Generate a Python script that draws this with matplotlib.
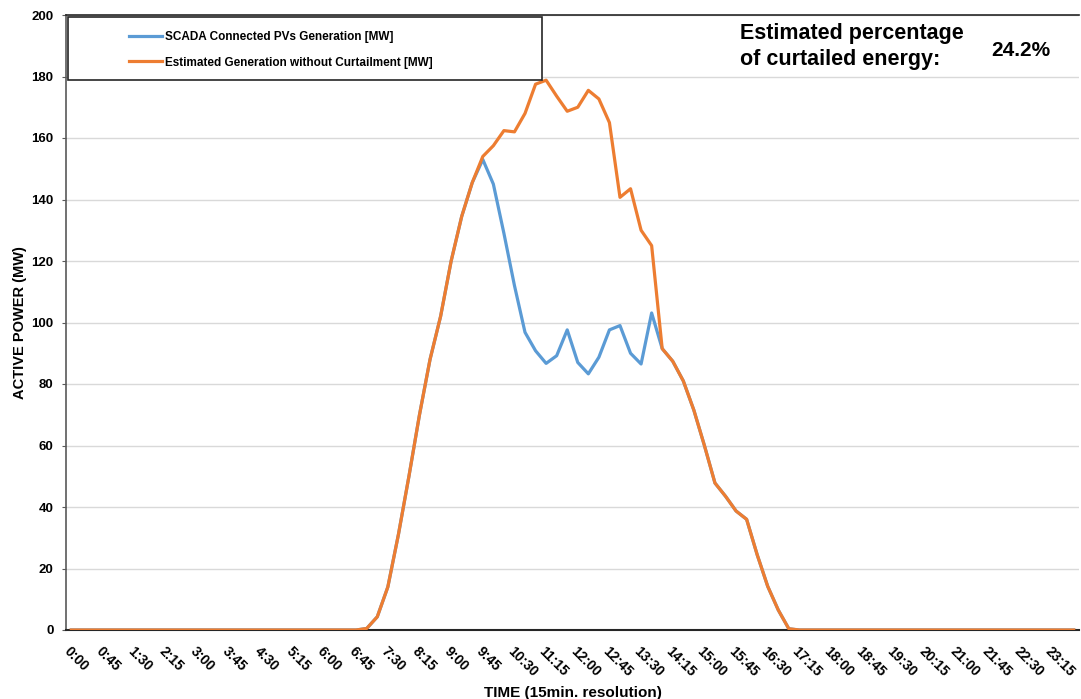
import matplotlib
matplotlib.use("Agg")
import matplotlib.pyplot as plt
from matplotlib.patches import Rectangle

plt.rcParams['font.family'] = ['Liberation Sans', 'DejaVu Sans']
plt.rcParams['font.weight'] = 'bold'

# 15 minute slots over one day
times = [f"{h}:{m:02d}" for h in range(24) for m in (0, 15, 30, 45)]

# estimated generation without curtailment [MW], slots 28..68, zero elsewhere
est_day = [0.5, 4.3, 14, 31, 50, 70, 88, 102, 120, 134.5, 145.5, 154,
           157.5, 162.4, 162, 168, 177.5, 178.8, 173.6, 168.7, 170, 175.5,
           172.7, 165, 140.7, 143.5, 130, 125, 91.5, 87.4, 81, 71.5, 60,
           47.8, 43.5, 38.7, 36, 24.5, 14.2, 6.5, 0.4]
# SCADA measured generation [MW], same slots
scada_day = [0.5, 4.3, 14, 31, 50, 70, 88, 102, 120, 134.5, 145.5, 153,
             145, 129, 112, 96.8, 90.8, 86.7, 89.2, 97.6, 87, 83.3,
             88.7, 97.6, 99, 90, 86.5, 103.1, 91.5, 87.4, 81, 71.5, 60,
             47.8, 43.5, 38.7, 36, 24.5, 14.2, 6.5, 0.4]
start = 28
est = [0] * start + est_day + [0] * (96 - start - len(est_day))
scada = [0] * start + scada_day + [0] * (96 - start - len(scada_day))

curtailed_pct = "24.2%"

W, H = 1081, 699
fig = plt.figure(figsize=(W / 100, H / 100), dpi=100)
ax_l, ax_r, ax_t, ax_b = 66, 1079, 15, 630
ax = fig.add_axes([ax_l / W, 1 - ax_b / H, (ax_r - ax_l) / W, (ax_b - ax_t) / H])

x = list(range(96))
ax.plot(x, scada, color='#5B9BD5', lw=2.3, label='SCADA Connected PVs Generation [MW]',
        solid_joinstyle='round', zorder=2)
ax.plot(x, est, color='#ED7D31', lw=2.3, label='Estimated Generation without Curtailment [MW]',
        solid_joinstyle='round', zorder=3)

ax.set_xlim(-0.5, 95.5)
ax.set_ylim(0, 200)
ax.set_yticks(range(0, 201, 20))
ax.set_xticks(x[::3])
ax.set_xticklabels(times[::3], rotation=-45, ha='left', va='top',
                   rotation_mode='anchor', fontsize=10, fontweight='bold')
ax.tick_params(axis='x', length=0, pad=10)
ax.tick_params(axis='y', length=3, width=0.8, color='#595959', pad=6, labelsize=9.5)
for lbl in ax.get_yticklabels():
    lbl.set_fontweight('bold')

ax.grid(axis='y', color='#d9d9d9', lw=1)
ax.set_axisbelow(True)
ax.spines['left'].set_color('#595959')
ax.spines['left'].set_linewidth(1.2)
ax.spines['bottom'].set_color('#262626')
ax.spines['bottom'].set_linewidth(1.5)
ax.spines['top'].set_color('#262626')
ax.spines['top'].set_linewidth(1.2)
ax.spines['right'].set_visible(False)

ax.set_ylabel('ACTIVE POWER (MW)', fontsize=10.5, fontweight='bold', labelpad=3)
ax.set_xlabel('TIME (15min. resolution)', fontsize=11, fontweight='bold', labelpad=5)

# legend box
aw = ax_r - ax_l
ah = ax_b - ax_t
ax.add_patch(Rectangle(((68 - ax_l) / aw, (ax_b - 80) / ah), (542 - 68) / aw, (80 - 17) / ah,
                       transform=ax.transAxes, fill=True, facecolor='white',
                       edgecolor='#262626', lw=1.2, zorder=4, clip_on=False))
leg = ax.legend(loc='upper left', bbox_to_anchor=((129 - ax_l) / aw, (ax_b - 31) / ah),
                frameon=False, fontsize=8.5, handlelength=2.8, handletextpad=0.25,
                labelspacing=1.15, borderpad=0, borderaxespad=0)
leg.set_zorder(5)
for t in leg.get_texts():
    t.set_fontweight('bold')

fig.text(740 / W, 1 - 23 / H, 'Estimated percentage\nof curtailed energy:',
         fontsize=15.5, fontweight='bold', ha='left', va='top', linespacing=1.3)
fig.text(991 / W, 1 - 51 / H, curtailed_pct, fontsize=15, fontweight='bold',
         ha='left', va='center')

fig.savefig('out.png', dpi=100)
